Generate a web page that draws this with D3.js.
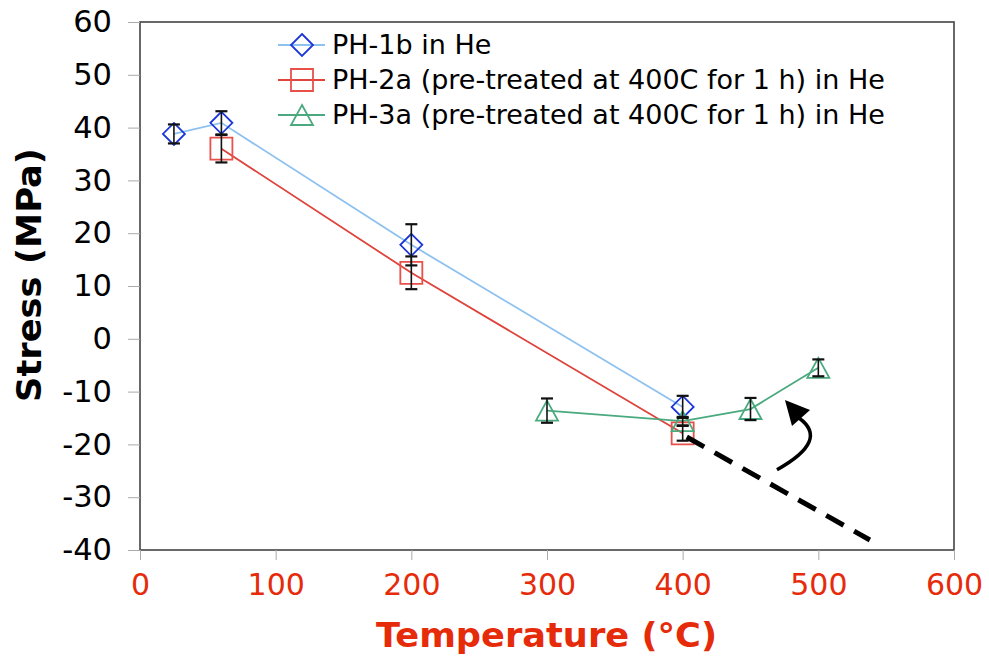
<!DOCTYPE html>
<html><head><meta charset="utf-8">
<script src="https://cdn.jsdelivr.net/npm/d3@7"></script>
<style>body{margin:0;background:#fff}svg{display:block}</style>
</head><body><svg id="c" width="989" height="662"></svg>
<script>
// ---- data ----
const xTicks = [0, 100, 200, 300, 400, 500, 600];
const yTicks = [60, 50, 40, 30, 20, 10, 0, -10, -20, -30, -40];
const seriesNames = [
  "PH-1b in He",
  "PH-2a (pre-treated at 400C for 1 h) in He",
  "PH-3a (pre-treated at 400C for 1 h) in He"
];
const ph1bTemp = [25, 60, 200, 400];
const ph1bStress = [38.8, 40.9, 17.8, -12.9];
const ph1bErr = [1.8, 2.2, 3.9, 2.1];
const ph2aTemp = [60, 200, 400];
const ph2aStress = [36.0, 12.5, -17.9];
const ph2aErr = [2.6, 3.1, 1.4];
const ph3aTemp = [300, 400, 450, 500];
const ph3aStress = [-13.6, -15.6, -13.3, -5.5];
const ph3aErr = [2.3, 0.8, 2.1, 1.6];
const trendTemp = [403, 538];
const trendStress = [-18.6, -38.1];
const arrowTemp = [469.5, 508.6, 485.7];
const arrowStress = [-24.8, -19.2, -15.0];
const arrowHeadTemp = [475.4, 480.6, 493.9];
const arrowHeadStress = [-11.6, -16.5, -13.5];

// ---- chart ----
const svg = d3.select("#c");
const L = 140, R = 954, T = 22, B = 550;
const x = d3.scaleLinear().domain([0, 600]).range([L, R]);
const y = d3.scaleLinear().domain([-40, 60]).range([B, T]);
const FONT = "DejaVu Sans, Verdana, sans-serif";

const styles = [
  {line: "#8dc1ef", mark: "#1c36d8", shape: "diamond"},
  {line: "#df433b", mark: "#e8504a", shape: "square"},
  {line: "#4aa97e", mark: "#4aa97e", shape: "triangle"}
];
const series = [
  {t: ph1bTemp, s: ph1bStress, e: ph1bErr},
  {t: ph2aTemp, s: ph2aStress, e: ph2aErr},
  {t: ph3aTemp, s: ph3aStress, e: ph3aErr}
].map((d, i) => ({...d, style: styles[i], name: seriesNames[i],
  pts: d.t.map((t, j) => ({t, s: d.s[j], e: d.e[j]}))}));

function markerPath(shape, cx, cy) {
  const h = 11;
  if (shape === "diamond") return `M${cx},${cy-h}L${cx+h},${cy}L${cx},${cy+h}L${cx-h},${cy}Z`;
  if (shape === "square") return `M${cx-h},${cy-h}H${cx+h}V${cy+h}H${cx-h}Z`;
  return `M${cx},${cy-10}L${cx+11},${cy+10}L${cx-11},${cy+10}Z`;
}

// frame
svg.append("rect").attr("x", L).attr("y", T).attr("width", R - L).attr("height", B - T)
  .attr("fill", "none").attr("stroke", "#444").attr("stroke-width", 1.6);

// axes
const yAxis = d3.axisLeft(y).tickValues(yTicks).tickSize(12).tickPadding(16).tickFormat(d3.format("d"));
const gy = svg.append("g").attr("transform", `translate(${L},0)`).call(yAxis);
gy.select(".domain").remove();
gy.selectAll(".tick line").attr("stroke", "#aaa");
gy.selectAll(".tick text").attr("font-family", FONT)
  .attr("font-size", 30.5).attr("fill", "#000").text(d => d < 0 ? "-" + Math.abs(d) : d);

const xAxis = d3.axisBottom(x).tickValues(xTicks).tickSize(10).tickPadding(14).tickFormat(d3.format("d"));
const gx = svg.append("g").attr("transform", `translate(0,${B})`).call(xAxis);
gx.select(".domain").remove();
gx.selectAll(".tick line").attr("stroke", "#aaa");
gx.selectAll(".tick text").attr("font-family", FONT)
  .attr("font-size", 30).attr("fill", "#e62b0a");

// titles
svg.append("text").attr("x", 376).attr("y", 647)
  .attr("font-family", FONT).attr("font-weight", "bold")
  .attr("font-size", 34).attr("fill", "#e62b0a")
  .attr("textLength", 341).attr("lengthAdjust", "spacingAndGlyphs")
  .text("Temperature (°C)");
svg.append("text").attr("transform", `translate(41,402) rotate(-90)`)
  .attr("font-family", FONT).attr("font-weight", "bold")
  .attr("font-size", 34).attr("fill", "#000")
  .attr("textLength", 254).attr("lengthAdjust", "spacingAndGlyphs")
  .text("Stress (MPa)");

// lines
const line = d3.line().x(d => x(d.t)).y(d => y(d.s));
series.forEach(sr => {
  svg.append("path").datum(sr.pts).attr("d", line).attr("fill", "none")
    .attr("stroke", sr.style.line).attr("stroke-width", 1.8);
});
// markers
series.forEach(sr => {
  svg.append("g").selectAll("path").data(sr.pts).join("path")
    .attr("d", d => markerPath(sr.style.shape, x(d.t), y(d.s)))
    .attr("fill", "none").attr("stroke", sr.style.mark).attr("stroke-width", 1.8);
});
// error bars
series.forEach(sr => {
  const g = svg.append("g").attr("stroke", "#111").attr("stroke-width", 1.6);
  sr.pts.forEach(d => {
    const cx = x(d.t), y1 = y(d.s + d.e), y2 = y(d.s - d.e);
    g.append("line").attr("x1", cx).attr("x2", cx).attr("y1", y1).attr("y2", y2);
    g.append("line").attr("x1", cx - 6).attr("x2", cx + 6).attr("y1", y1).attr("y2", y1).attr("stroke-width", 2.2);
    g.append("line").attr("x1", cx - 6).attr("x2", cx + 6).attr("y1", y2).attr("y2", y2).attr("stroke-width", 2.2);
  });
});

// dashed extrapolation
svg.append("line")
  .attr("x1", x(trendTemp[0])).attr("y1", y(trendStress[0]))
  .attr("x2", x(trendTemp[1])).attr("y2", y(trendStress[1]))
  .attr("stroke", "#000").attr("stroke-width", 5).attr("stroke-dasharray", "20,12");

// curved arrow
svg.append("path")
  .attr("d", `M${x(arrowTemp[0])},${y(arrowStress[0])}Q${x(arrowTemp[1])},${y(arrowStress[1])} ${x(arrowTemp[2])},${y(arrowStress[2])}`)
  .attr("fill", "none").attr("stroke", "#000").attr("stroke-width", 3.5);
svg.append("path")
  .attr("d", "M" + arrowHeadTemp.map((t, i) => `${x(t)},${y(arrowHeadStress[i])}`).join("L") + "Z")
  .attr("fill", "#000");

// legend
const lg = svg.append("g");
series.forEach((sr, i) => {
  const ly = 45 + i * 35;
  lg.append("line").attr("x1", 278).attr("x2", 325).attr("y1", ly).attr("y2", ly)
    .attr("stroke", sr.style.line).attr("stroke-width", 1.8);
  lg.append("path").attr("d", markerPath(sr.style.shape, 302, ly))
    .attr("fill", "none").attr("stroke", sr.style.mark).attr("stroke-width", 1.8);
  lg.append("text").attr("x", 332).attr("y", ly + 9)
    .attr("font-family", FONT).attr("font-size", 27)
    .attr("fill", "#000").text(sr.name);
});
</script></body></html>
